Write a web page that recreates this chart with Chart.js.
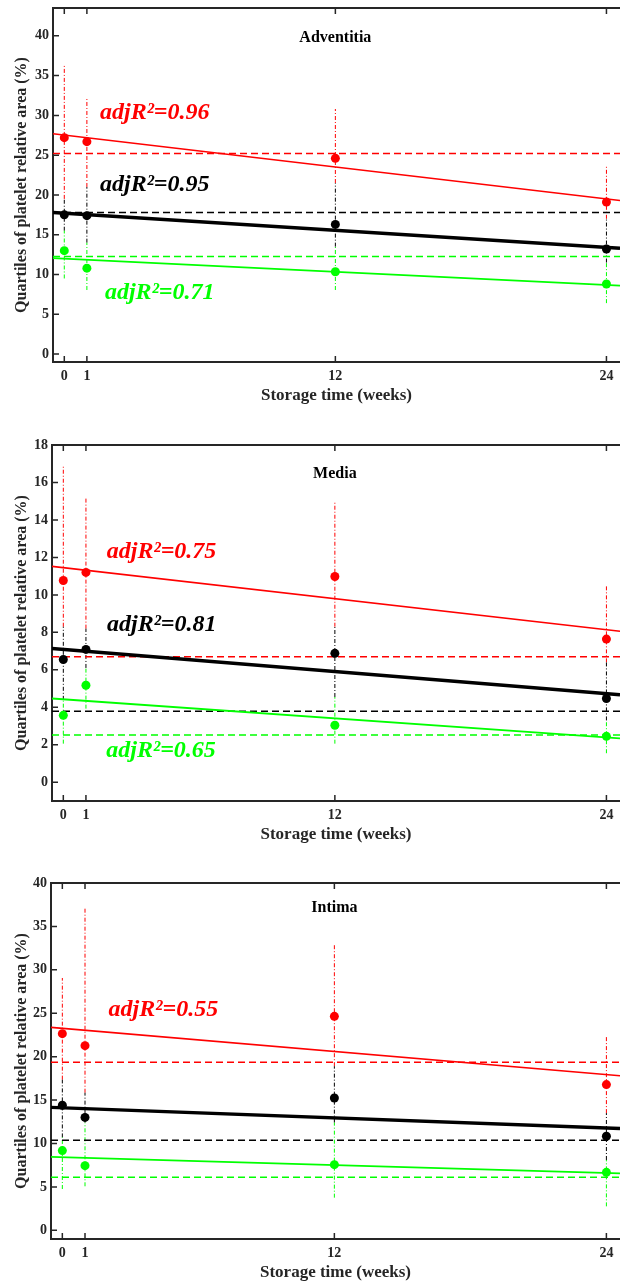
<!DOCTYPE html>
<html>
<head>
<meta charset="utf-8">
<script src="https://cdn.jsdelivr.net/npm/chart.js@4"></script>
<style>
  html, body { margin: 0; padding: 0; background: #fff; }
  body { width: 620px; height: 1282px; position: relative; overflow: hidden; }
  canvas { position: absolute; left: 0; }
</style>
</head>
<body>
<canvas id="adventitia" width="620" height="410" style="top:0px"></canvas>
<canvas id="media" width="620" height="412" style="top:437px"></canvas>
<canvas id="intima" width="620" height="412" style="top:875px"></canvas>
<script>
// storage times and axis ticks
const weeks = [0, 1, 12, 24];
const xTicks = [0, 1, 12, 24];
const xLimits = [-0.5, 24.6];

// Adventitia: upper quartile (red), median (black), lower quartile (green)
const advTicks = [0, 5, 10, 15, 20, 25, 30, 35, 40];
const advRed = [27.2, 26.7, 24.6, 19.1];
const advBlack = [17.5, 17.4, 16.3, 13.2];
const advGreen = [13.0, 10.8, 10.35, 8.8];
const advRedBar = [[19.5, 36.3], [21.0, 32.3], [21.5, 30.8], [17.0, 23.7]];
const advBlackBar = [[15.5, 19.5], [14.0, 21.0], [13.5, 21.5], [11.5, 17.0]];
const advGreenBar = [[9.5, 15.5], [8.05, 14.0], [8.05, 13.5], [6.4, 11.5]];
const advFit = [[27.7, 19.3], [17.8, 13.3], [12.05, 8.6]];   // value at x = -0.5 and x = 24.6
const advLevel = [25.2, 17.8, 12.25];
const advR2 = ['0.96', '0.95', '0.71'];

// Media
const medTicks = [0, 2, 4, 6, 8, 10, 12, 14, 16, 18];
const medRed = [10.77, 11.2, 10.98, 7.64];
const medBlack = [6.55, 7.09, 6.88, 4.47];
const medGreen = [3.57, 5.18, 3.04, 2.45];
const medRedBar = [[8.3, 16.87], [8.2, 15.14], [8.3, 15.0], [6.4, 10.53]];
const medBlackBar = [[4.4, 8.3], [6.1, 8.2], [4.55, 8.3], [3.3, 6.4]];
const medGreenBar = [[2.06, 4.4], [3.93, 6.1], [2.06, 4.55], [1.55, 3.3]];
const medFit = [[11.52, 8.06], [7.14, 4.67], [4.47, 2.34]];
const medLevel = [6.7, 3.79, 2.52];
const medR2 = ['0.75', '0.81', '0.65'];

// Intima
const intTicks = [0, 5, 10, 15, 20, 25, 30, 35, 40];
const intRed = [22.65, 21.27, 24.64, 16.78];
const intBlack = [14.4, 13.0, 15.24, 10.83];
const intGreen = [9.18, 7.45, 7.56, 6.68];
const intRedBar = [[17.35, 29.06], [15.85, 37.2], [18.9, 32.9], [13.5, 22.3]];
const intBlackBar = [[10.7, 17.35], [12.4, 15.85], [12.4, 18.9], [8.1, 13.5]];
const intGreenBar = [[4.76, 10.7], [5.07, 12.4], [3.76, 12.4], [2.76, 8.1]];
const intFit = [[23.37, 17.8], [14.16, 11.73], [8.45, 6.55]];
const intLevel = [19.35, 10.36, 6.1];
const intR2 = ['0.55'];

const RED = '#ff0000', BLACK = '#000000', GREEN = '#00ff00';
const AXIS = '#262626';
const SERIF = '"Liberation Serif", "Times New Roman", serif';
const COLORS = [RED, BLACK, GREEN];

function barPoints(bars) {
    let pts = [];
    bars.forEach((b, i) => {
        pts.push({ x: weeks[i], y: b[0] }, { x: weeks[i], y: b[1] }, { x: weeks[i], y: null });
    });
    return pts;
}
function span(ends) {
    return [{ x: xLimits[0], y: ends[0] }, { x: xLimits[1], y: ends[1] }];
}

function buildDatasets(vals, bars, fits, levels) {
    let ds = [];
    const fitWidth = [1.6, 3.4, 1.8];
    // first dataset ends up on top, so markers go first
    [2, 1, 0].forEach(k => ds.push({
        data: weeks.map((w, i) => ({ x: w, y: vals[k][i] })),
        showLine: false, pointRadius: 4.5, pointBackgroundColor: COLORS[k], pointBorderWidth: 0
    }));
    [2, 1, 0].forEach(k => ds.push({
        data: span(fits[k]), borderColor: COLORS[k], borderWidth: fitWidth[k], pointRadius: 0
    }));
    [2, 1, 0].forEach(k => ds.push({
        data: span([levels[k], levels[k]]), borderColor: COLORS[k], borderWidth: 1.5,
        borderDash: [7, 4], pointRadius: 0
    }));
    [2, 1, 0].forEach(k => ds.push({
        data: barPoints(bars[k]), borderColor: COLORS[k], borderWidth: 1,
        borderDash: [4, 2, 1, 2], pointRadius: 0, spanGaps: false
    }));
    return ds;
}

// box top edge plus MATLAB-style inward ticks
const frameTicks = {
    id: 'frameTicks',
    afterDraw(chart) {
        const { ctx, chartArea: a, scales: { x, y } } = chart;
        ctx.save();
        ctx.strokeStyle = AXIS;
        ctx.lineWidth = 2;
        ctx.beginPath();
        ctx.moveTo(a.left - 1, a.top);
        ctx.lineTo(a.right, a.top);
        ctx.stroke();
        ctx.lineWidth = 1.5;
        ctx.beginPath();
        x.ticks.forEach(t => {
            const px = x.getPixelForValue(t.value);
            ctx.moveTo(px, a.bottom); ctx.lineTo(px, a.bottom - 6);
            ctx.moveTo(px, a.top); ctx.lineTo(px, a.top + 6);
        });
        y.ticks.forEach(t => {
            const py = y.getPixelForValue(t.value);
            ctx.moveTo(a.left, py); ctx.lineTo(a.left + 6, py);
        });
        ctx.stroke();
        ctx.restore();
    }
};

function notes(items) {
    return {
        id: 'notes',
        afterDatasetsDraw(chart) {
            const { ctx, scales: { x, y } } = chart;
            ctx.save();
            items.forEach(n => {
                ctx.font = n.font;
                ctx.fillStyle = n.color;
                ctx.textAlign = n.align;
                ctx.textBaseline = 'middle';
                ctx.fillText(n.text, x.getPixelForValue(n.x), y.getPixelForValue(n.y));
            });
            ctx.restore();
        }
    };
}

function r2Note(val, color, x, y) {
    return { text: 'adjR\u00b2=' + val, color, x, y, align: 'left', font: 'italic bold 24px ' + SERIF };
}
function titleNote(text, y) {
    return { text, color: BLACK, x: 12, y, align: 'center', font: 'bold 16px ' + SERIF };
}

function makePanel(id, yMax, yTicks, left, datasets, items) {
    new Chart(document.getElementById(id), {
        type: 'line',
        data: { datasets },
        plugins: [frameTicks, notes(items)],
        options: {
            responsive: false,
            animation: false,
            layout: { autoPadding: false, padding: { top: 8, left: 0, right: 0, bottom: 0 } },
            plugins: { legend: { display: false }, tooltip: { enabled: false } },
            scales: {
                x: {
                    type: 'linear', min: xLimits[0], max: xLimits[1],
                    afterBuildTicks: s => { s.ticks = xTicks.map(v => ({ value: v })); },
                    afterFit: s => { s.height = 48; s.paddingLeft = 0; s.paddingRight = 0; },
                    grid: { display: false, drawTicks: false },
                    border: { display: true, color: AXIS, width: 2 },
                    ticks: { color: AXIS, padding: 6, autoSkip: false, maxRotation: 0,
                             font: { family: SERIF, size: 14, weight: 'bold' } },
                    title: { display: true, text: 'Storage time (weeks)', color: AXIS,
                             padding: { top: 0, bottom: 4 },
                             font: { family: SERIF, size: 17, weight: 'bold' } }
                },
                y: {
                    type: 'linear', min: -1, max: yMax,
                    afterBuildTicks: s => { s.ticks = yTicks.map(v => ({ value: v })); },
                    afterFit: s => { s.width = left; s.paddingTop = 0; s.paddingBottom = 0; },
                    grid: { display: false, drawTicks: false },
                    border: { display: true, color: AXIS, width: 2 },
                    ticks: { color: AXIS, padding: 4, autoSkip: false,
                             font: { family: SERIF, size: 14, weight: 'bold' } },
                    title: { display: true, text: 'Quartiles of platelet relative area (%)', color: AXIS,
                             padding: { top: 12, bottom: 0 },
                             font: { family: SERIF, size: 16, weight: 'bold' } }
                }
            }
        }
    });
}

makePanel('adventitia', 43.5, advTicks, 53,
    buildDatasets([advRed, advBlack, advGreen], [advRedBar, advBlackBar, advGreenBar], advFit, advLevel),
    [titleNote('Adventitia', 39.8),
     r2Note(advR2[0], RED, 1.58, 30.3),
     r2Note(advR2[1], BLACK, 1.58, 21.3),
     r2Note(advR2[2], GREEN, 1.8, 7.7)]);

makePanel('media', 18, medTicks, 52,
    buildDatasets([medRed, medBlack, medGreen], [medRedBar, medBlackBar, medGreenBar], medFit, medLevel),
    [titleNote('Media', 16.47),
     r2Note(medR2[0], RED, 1.92, 12.32),
     r2Note(medR2[1], BLACK, 1.93, 8.39),
     r2Note(medR2[2], GREEN, 1.9, 1.7)]);

makePanel('intima', 40, intTicks, 51,
    buildDatasets([intRed, intBlack, intGreen], [intRedBar, intBlackBar, intGreenBar], intFit, intLevel),
    [titleNote('Intima', 37.1),
     r2Note(intR2[0], RED, 2.04, 25.4)]);
</script>
</body>
</html>
